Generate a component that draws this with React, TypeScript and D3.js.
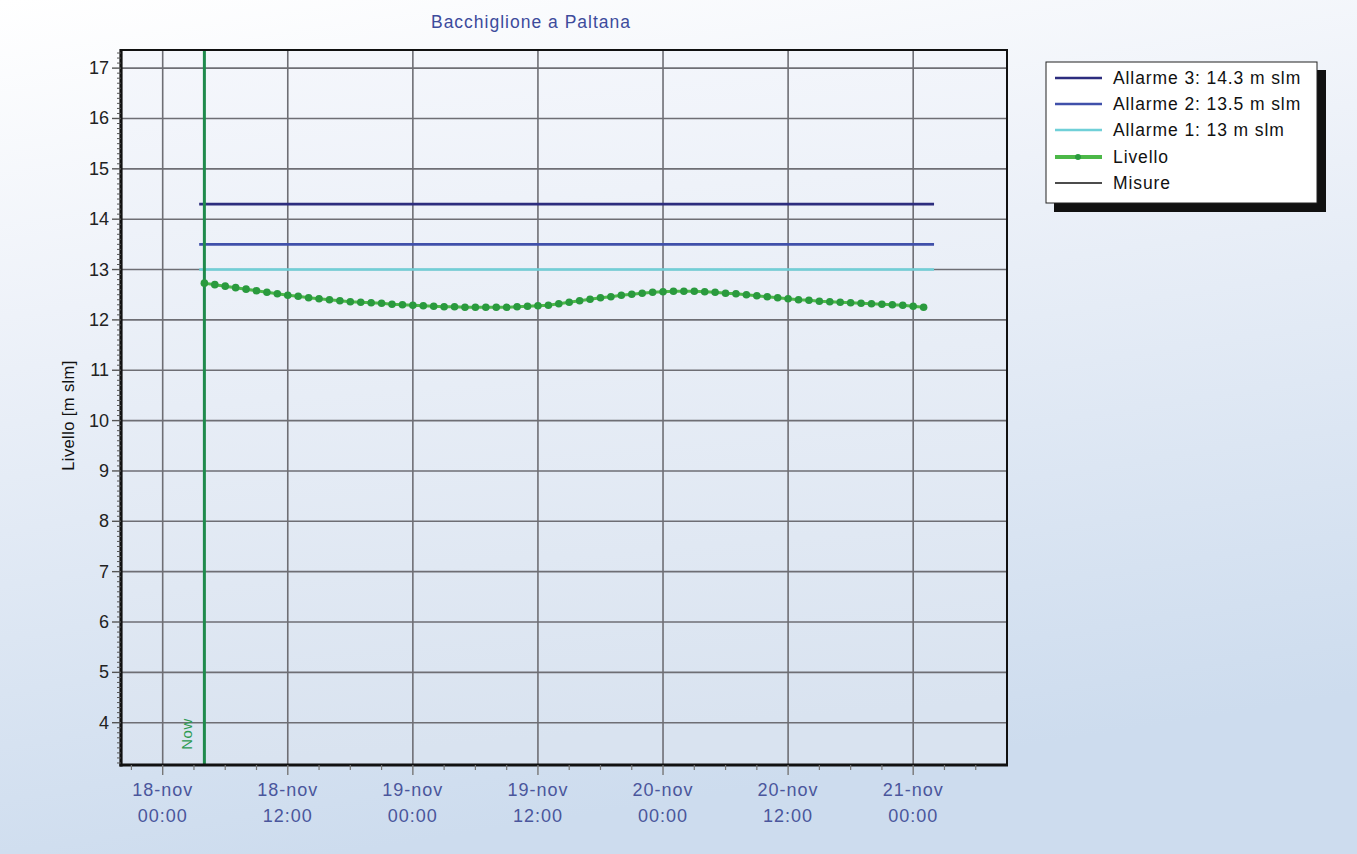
import React from "react";
import * as d3 from "d3";

const W = 1357;
const H = 854;

const chartTitle = "Bacchiglione a Paltana";
const yAxisTitle = "Livello [m slm]";
const nowLabel = "Now";

// hours since 18-nov 00:00
const domainHours = [-4, 81];
const yDomain = [3.16, 17.36];
const yTickValues = [4, 5, 6, 7, 8, 9, 10, 11, 12, 13, 14, 15, 16, 17];
const xTickHours = [0, 12, 24, 36, 48, 60, 72];
const xTickLabels = [
  ["18-nov", "00:00"],
  ["18-nov", "12:00"],
  ["19-nov", "00:00"],
  ["19-nov", "12:00"],
  ["20-nov", "00:00"],
  ["20-nov", "12:00"],
  ["21-nov", "00:00"],
];
const nowHour = 4;

const alarmNames = ["Allarme 3: 14.3 m slm", "Allarme 2: 13.5 m slm", "Allarme 1: 13 m slm"];
const alarmValues = [14.3, 13.5, 13];
const alarmColors = ["#2d2d7e", "#4050aa", "#70d0d8"];
const alarmSpan = [3.5, 74];

const levelStartHour = 4;
const levelValues = [
  12.73, 12.70, 12.67, 12.64, 12.61, 12.58, 12.55, 12.52, 12.49, 12.47,
  12.44, 12.42, 12.40, 12.38, 12.36, 12.35, 12.34, 12.33, 12.31, 12.30,
  12.29, 12.28, 12.27, 12.26, 12.26, 12.25, 12.25, 12.25, 12.25, 12.25,
  12.26, 12.27, 12.28, 12.29, 12.32, 12.35, 12.38, 12.41, 12.44, 12.46,
  12.49, 12.51, 12.53, 12.55, 12.56, 12.57, 12.57, 12.57, 12.56, 12.55,
  12.53, 12.52, 12.50, 12.48, 12.46, 12.44, 12.42, 12.40, 12.39, 12.37,
  12.36, 12.35, 12.34, 12.33, 12.32, 12.31, 12.30, 12.29, 12.27, 12.25,
];

const legendNames = [...alarmNames, "Livello", "Misure"];

const FONT = "'Liberation Sans', Arial, sans-serif";

export default function App() {
  const left = 121, right = 1007, top = 50, bottom = 765;
  const x = d3.scaleLinear().domain(domainHours).range([left, right]);
  const y = d3.scaleLinear().domain(yDomain).range([bottom, top]);

  const minorX = d3.range(-3, 81, 3).filter((h) => h % 12 !== 0);
  const minorY = d3.range(32, 174).map((v) => v / 10).filter((v) => Math.abs(v - Math.round(v)) > 1e-6);

  const levelPts: [number, number][] = levelValues.map((v, i) => [x(levelStartHour + i), y(v)]);
  const line = d3.line();

  const legRows = [78, 104, 130, 157, 183];

  return (
    <svg width={W} height={H} style={{ position: "absolute", left: 0, top: 0 }} fontFamily={FONT}>
      <defs>
        <linearGradient id="bg" x1="0" y1="0" x2="0.25" y2="1">
          <stop offset="0" stopColor="#ffffff" />
          <stop offset="0.35" stopColor="#eef2f9" />
          <stop offset="1" stopColor="#cddcee" />
        </linearGradient>
        <linearGradient id="plotbg" x1="0" y1="0" x2="0.1" y2="1">
          <stop offset="0" stopColor="#f5f7fc" />
          <stop offset="1" stopColor="#d9e3f0" />
        </linearGradient>
      </defs>
      <rect x={0} y={0} width={W} height={H} fill="url(#bg)" />
      <rect x={left} y={top} width={right - left} height={bottom - top} fill="url(#plotbg)" />

      {/* grid */}
      {yTickValues.map((v) => (
        <line key={"gy" + v} x1={left} x2={right} y1={y(v)} y2={y(v)} stroke="#6e6e74" strokeWidth={1.6} />
      ))}
      {xTickHours.map((h) => (
        <line key={"gx" + h} x1={x(h)} x2={x(h)} y1={top} y2={bottom} stroke="#6e6e74" strokeWidth={1.6} />
      ))}

      {/* alarms */}
      {alarmValues.map((v, i) => (
        <line key={"al" + i} x1={x(alarmSpan[0])} x2={x(alarmSpan[1])} y1={y(v)} y2={y(v)} stroke={alarmColors[i]} strokeWidth={2.6} />
      ))}

      {/* now line */}
      <line x1={x(nowHour)} x2={x(nowHour)} y1={top} y2={bottom} stroke="#1f8a4c" strokeWidth={3} />
      <text
        transform={`translate(${x(nowHour) - 16},${bottom - 31}) rotate(-90)`}
        textAnchor="middle"
        dominantBaseline="middle"
        fontSize={15}
        letterSpacing={0.5}
        fill="#2c9a50"
      >
        {nowLabel}
      </text>

      {/* level */}
      <path d={line(levelPts) || ""} fill="none" stroke="#4cb848" strokeWidth={3} />
      {levelPts.map((p, i) => (
        <circle key={"pt" + i} cx={p[0]} cy={p[1]} r={3.8} fill="#2a9a3e" />
      ))}

      {/* border */}
      <rect x={left} y={top} width={right - left} height={bottom - top} fill="none" stroke="#111" strokeWidth={2} />
      <line x1={left} x2={left} y1={top - 1} y2={bottom + 1.5} stroke="#111" strokeWidth={3.2} />
      <line x1={left - 1.5} x2={right + 1} y1={bottom} y2={bottom} stroke="#111" strokeWidth={3.2} />

      {/* y ticks */}
      {minorY.map((v) => (
        <line key={"my" + v} x1={left - 4} x2={left} y1={y(v)} y2={y(v)} stroke="#555" strokeWidth={1} />
      ))}
      {yTickValues.map((v) => (
        <g key={"ty" + v}>
          <line x1={left - 9} x2={left} y1={y(v)} y2={y(v)} stroke="#555" strokeWidth={1.4} />
          <text x={left - 12} y={y(v)} textAnchor="end" dominantBaseline="central" fontSize={18} fill="#222">
            {v}
          </text>
        </g>
      ))}

      {/* x ticks */}
      {minorX.map((h) => (
        <line key={"mx" + h} x1={x(h)} x2={x(h)} y1={bottom} y2={bottom + 5} stroke="#777" strokeWidth={1.2} />
      ))}
      {xTickHours.map((h, i) => (
        <g key={"tx" + h}>
          <line x1={x(h)} x2={x(h)} y1={bottom} y2={bottom + 10} stroke="#777" strokeWidth={1.4} />
          <text x={x(h)} y={790} textAnchor="middle" dominantBaseline="central" fontSize={18} letterSpacing={1} fill="#4a569c">
            {xTickLabels[i][0]}
          </text>
          <text x={x(h)} y={816} textAnchor="middle" dominantBaseline="central" fontSize={18} letterSpacing={1} fill="#4a569c">
            {xTickLabels[i][1]}
          </text>
        </g>
      ))}

      {/* titles */}
      <text x={531} y={22} textAnchor="middle" dominantBaseline="central" fontSize={17.5} letterSpacing={1} fill="#3d4b9c">
        {chartTitle}
      </text>
      <text
        transform={`translate(68,${(top + bottom) / 2 + 8}) rotate(-90)`}
        textAnchor="middle"
        dominantBaseline="central"
        fontSize={16.5}
        letterSpacing={0.4}
        fill="#111"
      >
        {yAxisTitle}
      </text>

      {/* legend */}
      <rect x={1054} y={70} width={272} height={142} fill="#111" />
      <rect x={1046} y={62} width={271} height={141} fill="#fff" stroke="#222" strokeWidth={1} />
      {legendNames.map((name, i) => {
        const ly = legRows[i];
        let sample;
        if (i < 3) {
          sample = <line x1={1055} x2={1102} y1={ly} y2={ly} stroke={alarmColors[i]} strokeWidth={2.6} />;
        } else if (i === 3) {
          sample = (
            <g>
              <line x1={1055} x2={1102} y1={ly} y2={ly} stroke="#4cb848" strokeWidth={4} />
              <circle cx={1078} cy={ly} r={3} fill="#2a9a3e" />
            </g>
          );
        } else {
          sample = <line x1={1055} x2={1102} y1={ly} y2={ly} stroke="#111" strokeWidth={1.3} />;
        }
        return (
          <g key={"lg" + i}>
            {sample}
            <text x={1113} y={ly} dominantBaseline="central" fontSize={17.5} letterSpacing={0.9} fill="#111">
              {name}
            </text>
          </g>
        );
      })}
    </svg>
  );
}
